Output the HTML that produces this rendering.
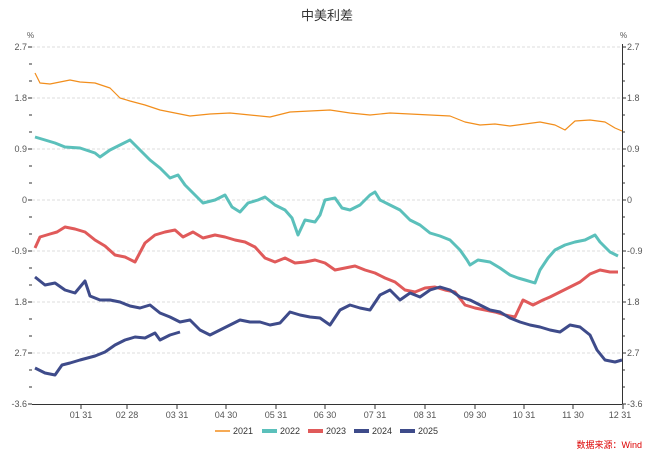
<!DOCTYPE html>
<html><head><meta charset="utf-8"><style>
body{margin:0;background:#fff;width:655px;height:457px;overflow:hidden;font-family:"Liberation Sans","Noto Sans CJK SC",sans-serif}
</style></head><body>
<svg width="655" height="457" viewBox="0 0 655 457" xmlns="http://www.w3.org/2000/svg" font-family="Liberation Sans, Noto Sans CJK SC, sans-serif">
<text x="327" y="20" font-size="13" text-anchor="middle" fill="#333">中美利差</text>
<g stroke="#ddd" stroke-dasharray="3,2" stroke-width="1">
<line x1="32" y1="47" x2="622" y2="47"/><line x1="32" y1="98" x2="622" y2="98"/><line x1="32" y1="149" x2="622" y2="149"/><line x1="32" y1="200" x2="622" y2="200"/><line x1="32" y1="251" x2="622" y2="251"/><line x1="32" y1="302" x2="622" y2="302"/><line x1="32" y1="353" x2="622" y2="353"/>
</g>
<g stroke="#333" stroke-width="1">
<line x1="32" y1="404.5" x2="622" y2="404.5"/>
<line x1="622.5" y1="44" x2="622.5" y2="404"/>
<path d="M28 47h4M28 98h4M28 149h4M28 200h4M28 251h4M28 302h4M28 353h4M28 404h4M29 64h3M29 81h3M29 115h3M29 132h3M29 166h3M29 183h3M29 217h3M29 234h3M29 268h3M29 285h3M29 319h3M29 336h3M29 370h3M29 387h3"/>
<path d="M622 47h4M622 98h4M622 149h4M622 200h4M622 251h4M622 302h4M622 353h4M622 404h4M622 64h3M622 81h3M622 115h3M622 132h3M622 166h3M622 183h3M622 217h3M622 234h3M622 268h3M622 285h3M622 319h3M622 336h3M622 370h3M622 387h3"/>
<path d="M81 404v5M127 404v5M177 404v5M226 404v5M276 404v5M325 404v5M375 404v5M425 404v5M475 404v5M524 404v5M573 404v5M623 404v5"/>
</g>
<g font-size="9" fill="#555" text-anchor="end">
<text x="27" y="50">2.7</text><text x="27" y="101">1.8</text><text x="27" y="152">0.9</text><text x="27" y="203">0</text><text x="27" y="254">-0.9</text><text x="27" y="305">1.8</text><text x="27" y="356">2.7</text><text x="27" y="407">-3.6</text>
</g>
<g font-size="9" fill="#555">
<text x="627" y="50">2.7</text><text x="627" y="101">1.8</text><text x="627" y="152">0.9</text><text x="627" y="203">0</text><text x="627" y="254">-0.9</text><text x="627" y="305">1.8</text><text x="627" y="356">2.7</text><text x="627" y="407">-3.6</text>
<text x="27" y="38" font-size="8">%</text><text x="620" y="38" font-size="8">%</text>
</g>
<g font-size="9" fill="#555" text-anchor="middle">
<text x="81" y="418">01 31</text><text x="127" y="418">02 28</text><text x="177" y="418">03 31</text><text x="226" y="418">04 30</text><text x="276" y="418">05 31</text><text x="325" y="418">06 30</text><text x="375" y="418">07 31</text><text x="425" y="418">08 31</text><text x="475" y="418">09 30</text><text x="524" y="418">10 31</text><text x="573" y="418">11 30</text><text x="620" y="418">12 31</text>
</g>
<g fill="none" stroke-linejoin="round">
<polyline stroke="#f28e1c" stroke-width="1.2" points="35,73 40,83 50,84 60,82 70,80 80,82 95,83 110,88 120,98 130,101 145,105 160,110 175,113 190,116 210,114 230,113 250,115 270,117 290,112 310,111 330,110 350,113 370,115 390,113 410,114 430,115 450,116 465,122 480,125 495,124 510,126 525,124 540,122 555,125 565,130 575,121 590,120 605,122 615,128 622,131"/>
<polyline stroke="#5bc0bb" stroke-width="3" points="35,137 45,140 55,143 65,147 80,148 95,153 100,157 110,150 120,145 130,140 140,150 150,160 160,168 170,178 178,175 185,185 195,195 203,203 215,200 225,195 232,207 240,212 248,203 258,200 265,197 275,205 285,210 292,218 298,235 305,220 315,222 320,215 325,200 335,198 342,208 350,210 360,205 370,195 375,192 380,200 390,205 400,210 410,220 420,225 430,233 440,236 450,240 460,250 467,260 470,265 478,260 490,262 500,268 510,275 518,278 525,280 535,283 540,270 548,258 555,250 565,245 575,242 585,240 595,235 600,242 610,252 618,256"/>
<polyline stroke="#e05a5a" stroke-width="3" points="35,248 40,237 50,234 57,232 65,227 75,229 85,232 95,240 105,246 115,255 125,257 135,262 145,243 155,235 165,232 175,230 183,237 193,232 203,238 215,235 225,237 235,240 245,242 255,247 265,258 275,262 285,258 295,263 305,262 315,260 325,263 335,270 345,268 355,266 365,270 375,273 385,278 395,282 405,290 415,292 425,288 435,287 445,290 455,292 465,305 475,308 485,310 495,312 505,315 515,317 523,300 533,305 543,300 550,297 560,292 570,287 580,282 590,274 600,270 610,272 618,272"/>
<polyline stroke="#3e4b8a" stroke-width="3" points="35,277 45,285 55,283 65,290 75,293 85,281 90,296 100,300 110,300 120,302 130,306 140,308 150,305 160,313 170,317 180,322 190,320 200,330 210,335 220,330 230,325 240,320 250,322 260,322 270,325 280,323 290,312 300,315 310,317 320,318 330,325 340,310 350,305 360,308 370,310 380,295 390,290 400,300 410,293 420,297 430,290 440,287 450,290 460,297 470,300 480,305 490,310 500,312 510,318 520,322 530,325 540,327 550,330 560,332 570,325 580,327 590,335 597,350 605,360 615,362 622,360"/>
<polyline stroke="#3e4b8a" stroke-width="3" points="35,368 45,373 55,375 62,365 70,363 80,360 95,356 105,352 115,345 125,340 135,337 145,338 155,333 160,340 170,335 180,332"/>
</g>
<g font-size="9" fill="#333">
<line x1="215" y1="431" x2="230" y2="431" stroke="#f28e1c" stroke-width="1.5"/><text x="233" y="434">2021</text>
<line x1="262" y1="431" x2="277" y2="431" stroke="#5bc0bb" stroke-width="4"/><text x="280" y="434">2022</text>
<line x1="308" y1="431" x2="323" y2="431" stroke="#e05a5a" stroke-width="4"/><text x="326" y="434">2023</text>
<line x1="354" y1="431" x2="369" y2="431" stroke="#3e4b8a" stroke-width="4"/><text x="372" y="434">2024</text>
<line x1="400" y1="431" x2="415" y2="431" stroke="#3e4b8a" stroke-width="4"/><text x="418" y="434">2025</text>
</g>
<text x="642" y="448" font-size="9" fill="#d00" text-anchor="end">数据来源：Wind</text>
</svg>
</body></html>
